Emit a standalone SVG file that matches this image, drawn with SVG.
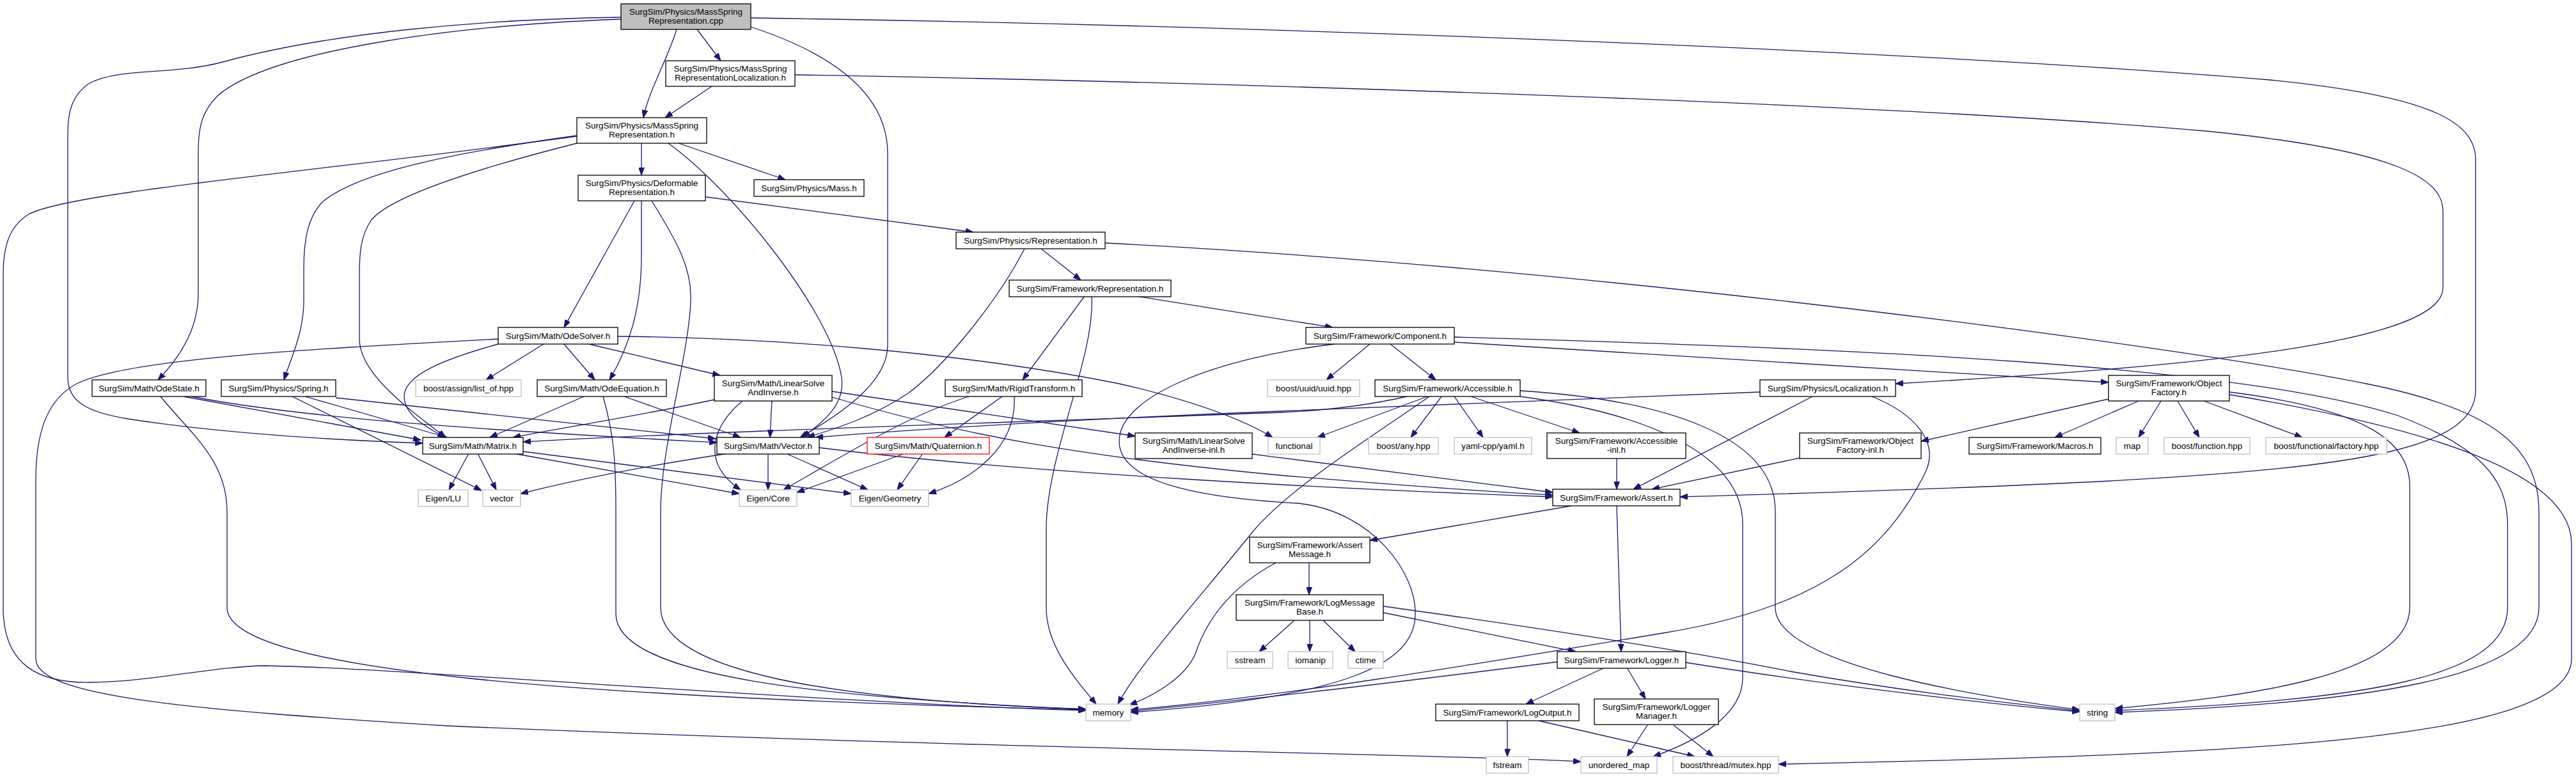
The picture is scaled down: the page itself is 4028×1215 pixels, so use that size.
<svg xmlns="http://www.w3.org/2000/svg" width="4028" height="1215" viewBox="0 0 4028 1215">
<style>
.n rect{fill:#fff;stroke:#000;stroke-width:1.3}
.n.ext rect{stroke:#bfbfbf}
.n.main rect{fill:#bfbfbf}
.n.trunc rect{stroke:#ff0000}
text{font-family:"Liberation Sans",Arial,Helvetica,sans-serif;font-size:13.5px;fill:#000;text-anchor:middle}
.e path{fill:none;stroke:#191970;stroke-width:1.3;marker-end:url(#ah)}
</style>
<defs>
<marker id="ah" markerWidth="12" markerHeight="9" refX="12" refY="4.5" orient="auto" markerUnits="userSpaceOnUse"><path d="M0,0 L12,4.5 L0,9 z" fill="#191970" stroke="#191970" stroke-width="1"/></marker>
</defs>
<rect width="4028" height="1215" fill="#fff"/>
<g id="edges" class="e">
<path d="M1090,46 L1127,95"/>
<path d="M1058,46 C1045,90 1015,140 1006,184"/>
<path d="M971,27 C760,30 520,50 348,97 C270,118 190,105 140,130 C110,150 106,180 106,210 L106,590 C106,630 140,645 200,655 C350,678 520,688 661,693"/>
<path d="M971,30 C700,40 420,80 340,150 C315,175 310,200 310,240 L310,460 C310,510 285,555 247,594"/>
<path d="M1174,42 C1290,80 1388,140 1388,240 L1388,540 C1388,600 1310,650 1251,684"/>
<path d="M1174,28 C2000,40 3000,80 3550,125 C3800,150 3871,190 3871,250 L3871,610 C3871,700 3700,730 3300,752 C3050,765 2800,772 2627,777"/>
<path d="M1113,135 L1040,184"/>
<path d="M1243,117 C2000,130 3000,165 3450,205 C3750,235 3820,280 3820,330 L3820,450 C3820,540 3400,575 2964,600"/>
<path d="M1003,224 L1003,274"/>
<path d="M1061,224 L1228,281"/>
<path d="M902,212 C700,240 560,270 505,315 C480,340 475,380 475,420 L475,470 C475,520 455,560 444,594"/>
<path d="M902,224 C760,260 610,305 580,345 C563,370 562,400 562,430 L562,530 C562,585 640,640 697,684"/>
<path d="M1045,224 C1150,300 1300,490 1316,590 C1322,635 1285,660 1255,684"/>
<path d="M902,213 C500,268 110,300 45,335 C12,355 5,390 5,430 L5,950 C5,1040 60,1068 140,1067 C240,1066 330,1042 415,1041 C600,1043 1300,1100 1698,1111"/>
<path d="M1104,308 L1522,363"/>
<path d="M992,314 L882,512"/>
<path d="M1003,314 L1003,400 C1003,480 985,540 953,594"/>
<path d="M1019,314 C1060,380 1082,420 1080,470 C1078,550 1033,700 1033,800 L1033,950 C1033,1050 1300,1095 1698,1109"/>
<path d="M1628,389 L1690,438"/>
<path d="M1602,389 C1560,470 1480,570 1420,615 C1360,655 1300,672 1262,684"/>
<path d="M1728,380 C2500,420 3400,540 3700,600 C3900,640 3970,700 3970,800 L3970,950 C3970,1060 3700,1100 3307,1114"/>
<path d="M1776,463 L2084,512"/>
<path d="M1696,463 L1599,594"/>
<path d="M1707,463 C1712,560 1640,700 1636,820 L1636,950 C1636,1010 1680,1060 1714,1101"/>
<path d="M850,538 L760,594"/>
<path d="M882,538 L930,594"/>
<path d="M921,538 L1126,587"/>
<path d="M966,526 C1200,528 1500,550 1750,600 C1880,630 1950,660 1990,684"/>
<path d="M779,538 C700,560 632,585 632,620 C632,650 670,670 696,684"/>
<path d="M779,530 C500,545 200,560 120,600 C72,625 56,680 56,750 L56,1030 C56,1090 300,1110 700,1135 C1500,1170 2300,1180 2472,1191"/>
<path d="M2142,538 L2074,594"/>
<path d="M2174,538 L2245,594"/>
<path d="M2274,535 C2700,560 3100,585 3297,598"/>
<path d="M2274,527 C2900,545 3500,570 3750,650 C3880,700 3921,750 3921,820 L3921,950 C3921,1060 3700,1095 3307,1111"/>
<path d="M2087,538 C1900,560 1750,620 1750,690 C1750,760 1900,780 2030,787 C2150,800 2215,900 2213,960 C2213,1040 2100,1090 1768,1114"/>
<path d="M287,620 L658,688"/>
<path d="M300,620 C500,660 900,680 1121,692"/>
<path d="M251,620 C300,680 355,720 355,800 L355,950 C355,1050 900,1090 1698,1110"/>
<path d="M477,620 L699,684"/>
<path d="M457,620 L753,767"/>
<path d="M525,622 L1119,686"/>
<path d="M913,620 L766,684"/>
<path d="M976,620 L1158,684"/>
<path d="M943,620 C960,680 963,720 963,800 L963,960 C963,1060 1300,1092 1698,1109"/>
<path d="M1301,612 L1775,682"/>
<path d="M1207,627 L1204,684"/>
<path d="M1161,627 C1120,660 1090,720 1158,766"/>
<path d="M1117,625 C1000,650 900,665 802,684"/>
<path d="M1301,621 C1500,680 1700,715 2000,743 C2200,760 2350,770 2428,774"/>
<path d="M1515,620 C1420,650 1340,700 1225,766"/>
<path d="M1567,620 L1477,684"/>
<path d="M1586,620 C1590,700 1520,750 1452,772"/>
<path d="M2232,620 L2060,684"/>
<path d="M2254,620 L2206,684"/>
<path d="M2274,620 L2319,684"/>
<path d="M2300,620 L2470,677"/>
<path d="M2235,620 C2150,680 2020,760 1960,830 C1880,930 1780,1040 1748,1101"/>
<path d="M2377,611 C2600,625 2776,680 2776,800 L2776,950 C2776,1040 3100,1090 3252,1110"/>
<path d="M2377,620 C2600,650 2725,720 2725,820 L2725,1060 C2725,1120 2650,1160 2585,1183"/>
<path d="M2200,620 C2120,638 2050,643 2000,645 C1600,660 1100,675 818,691"/>
<path d="M2834,620 L2554,765"/>
<path d="M2927,620 C2990,645 3035,690 3010,740 C2950,860 2850,950 2600,990 C2300,1040 2000,1090 1768,1110"/>
<path d="M2752,613 L2000,643 C1700,655 1450,670 1275,684"/>
<path d="M3297,624 L3004,690"/>
<path d="M3344,627 L3213,684"/>
<path d="M3379,627 L3344,684"/>
<path d="M3405,627 L3439,684"/>
<path d="M3446,627 L3600,684"/>
<path d="M3486,613 C3700,640 3768,690 3768,760 L3768,950 C3768,1060 3500,1090 3307,1108"/>
<path d="M3486,617 C3800,670 4021,740 4021,850 L4021,1030 C4021,1160 3500,1180 2781,1195"/>
<path d="M733,709 L702,766"/>
<path d="M747,709 L776,766"/>
<path d="M808,710 L1156,772"/>
<path d="M818,706 L1331,772"/>
<path d="M1139,709 C1000,730 900,750 814,772"/>
<path d="M1201,709 L1201,766"/>
<path d="M1229,709 L1357,766"/>
<path d="M1281,700 C1600,740 2100,765 2428,777"/>
<path d="M1415,709 L1246,770"/>
<path d="M1443,709 L1403,766"/>
<path d="M1958,710 C2150,735 2350,760 2428,770"/>
<path d="M2528,716 L2528,765"/>
<path d="M2815,716 L2583,765"/>
<path d="M2457,791 L2142,845"/>
<path d="M2528,791 L2535,1019"/>
<path d="M2047,880 L2047,930"/>
<path d="M1995,880 C1920,920 1885,975 1870,1020 C1855,1060 1800,1090 1766,1102"/>
<path d="M2024,970 L1969,1019"/>
<path d="M2048,970 L2048,1019"/>
<path d="M2069,970 L2119,1019"/>
<path d="M2163,958 L2464,1019"/>
<path d="M2163,948 C2500,995 2700,1030 2800,1050 C3000,1085 3150,1100 3252,1112"/>
<path d="M2435,1035 C2200,1065 1950,1095 1768,1112"/>
<path d="M2509,1044 L2386,1101"/>
<path d="M2544,1044 L2573,1093"/>
<path d="M2636,1036 C2850,1070 3100,1100 3252,1113"/>
<path d="M2357,1127 L2357,1183"/>
<path d="M2406,1127 L2650,1183"/>
<path d="M2576,1134 L2544,1183"/>
<path d="M2617,1134 L2679,1183"/>
</g>
<g id="n_main" class="n main"><rect x="971" y="6" width="203" height="40"/><text x="1072.5" y="22.5">SurgSim/Physics/MassSpring</text><text x="1072.5" y="37">Representation.cpp</text></g>
<g id="n_msrloc" class="n"><rect x="1041" y="95" width="202" height="40"/><text x="1142" y="111.5">SurgSim/Physics/MassSpring</text><text x="1142" y="126">RepresentationLocalization.h</text></g>
<g id="n_msr" class="n"><rect x="902" y="184" width="203" height="40"/><text x="1003.5" y="200.5">SurgSim/Physics/MassSpring</text><text x="1003.5" y="215">Representation.h</text></g>
<g id="n_defrep" class="n"><rect x="904" y="274" width="199" height="40"/><text x="1003.5" y="290.5">SurgSim/Physics/Deformable</text><text x="1003.5" y="305">Representation.h</text></g>
<g id="n_mass" class="n"><rect x="1179" y="281" width="172" height="26"/><text x="1265" y="298.5">SurgSim/Physics/Mass.h</text></g>
<g id="n_physrep" class="n"><rect x="1495" y="363" width="233" height="26"/><text x="1611.5" y="380.5">SurgSim/Physics/Representation.h</text></g>
<g id="n_fwrep" class="n"><rect x="1578" y="438" width="253" height="26"/><text x="1704.5" y="455.5">SurgSim/Framework/Representation.h</text></g>
<g id="n_odesolver" class="n"><rect x="779" y="512" width="187" height="26"/><text x="872.5" y="529.5">SurgSim/Math/OdeSolver.h</text></g>
<g id="n_component" class="n"><rect x="2042" y="512" width="232" height="26"/><text x="2158" y="529.5">SurgSim/Framework/Component.h</text></g>
<g id="n_odestate" class="n"><rect x="144" y="594" width="178" height="26"/><text x="233" y="611.5">SurgSim/Math/OdeState.h</text></g>
<g id="n_spring" class="n"><rect x="346" y="594" width="179" height="26"/><text x="435.5" y="611.5">SurgSim/Physics/Spring.h</text></g>
<g id="n_listof" class="n ext"><rect x="650" y="594" width="165" height="26"/><text x="732.5" y="611.5">boost/assign/list_of.hpp</text></g>
<g id="n_odeeq" class="n"><rect x="840" y="594" width="202" height="26"/><text x="941" y="611.5">SurgSim/Math/OdeEquation.h</text></g>
<g id="n_linsolve" class="n"><rect x="1117" y="587" width="184" height="40"/><text x="1209" y="603.5">SurgSim/Math/LinearSolve</text><text x="1209" y="618">AndInverse.h</text></g>
<g id="n_rigid" class="n"><rect x="1478" y="594" width="214" height="26"/><text x="1585" y="611.5">SurgSim/Math/RigidTransform.h</text></g>
<g id="n_uuid" class="n ext"><rect x="1982" y="594" width="144" height="26"/><text x="2054" y="611.5">boost/uuid/uuid.hpp</text></g>
<g id="n_accessible" class="n"><rect x="2150" y="594" width="227" height="26"/><text x="2263.5" y="611.5">SurgSim/Framework/Accessible.h</text></g>
<g id="n_localization" class="n"><rect x="2752" y="594" width="212" height="26"/><text x="2858" y="611.5">SurgSim/Physics/Localization.h</text></g>
<g id="n_objfactory" class="n"><rect x="3297" y="587" width="189" height="40"/><text x="3391.5" y="603.5">SurgSim/Framework/Object</text><text x="3391.5" y="618">Factory.h</text></g>
<g id="n_matrix" class="n"><rect x="661" y="684" width="157" height="26"/><text x="739.5" y="701.5">SurgSim/Math/Matrix.h</text></g>
<g id="n_vector_h" class="n"><rect x="1121" y="684" width="160" height="26"/><text x="1201" y="701.5">SurgSim/Math/Vector.h</text></g>
<g id="n_quat" class="n trunc"><rect x="1356" y="684" width="191" height="26"/><text x="1451.5" y="701.5">SurgSim/Math/Quaternion.h</text></g>
<g id="n_linsolveinl" class="n"><rect x="1775" y="677" width="183" height="40"/><text x="1866.5" y="693.5">SurgSim/Math/LinearSolve</text><text x="1866.5" y="708">AndInverse-inl.h</text></g>
<g id="n_functional" class="n ext"><rect x="1983" y="684" width="81" height="26"/><text x="2023.5" y="701.5">functional</text></g>
<g id="n_any" class="n ext"><rect x="2140" y="684" width="109" height="26"/><text x="2194.5" y="701.5">boost/any.hpp</text></g>
<g id="n_yaml" class="n ext"><rect x="2274" y="684" width="121" height="26"/><text x="2334.5" y="701.5">yaml-cpp/yaml.h</text></g>
<g id="n_accinl" class="n"><rect x="2419" y="677" width="217" height="40"/><text x="2527.5" y="693.5">SurgSim/Framework/Accessible</text><text x="2527.5" y="708">-inl.h</text></g>
<g id="n_ofinl" class="n"><rect x="2814" y="677" width="190" height="40"/><text x="2909" y="693.5">SurgSim/Framework/Object</text><text x="2909" y="708">Factory-inl.h</text></g>
<g id="n_macros" class="n"><rect x="3079" y="684" width="206" height="26"/><text x="3182" y="701.5">SurgSim/Framework/Macros.h</text></g>
<g id="n_map" class="n ext"><rect x="3309" y="684" width="50" height="26"/><text x="3334" y="701.5">map</text></g>
<g id="n_function" class="n ext"><rect x="3384" y="684" width="134" height="26"/><text x="3451" y="701.5">boost/function.hpp</text></g>
<g id="n_factory" class="n ext"><rect x="3543" y="684" width="189" height="26"/><text x="3637.5" y="701.5">boost/functional/factory.hpp</text></g>
<g id="n_lu" class="n ext"><rect x="654" y="766" width="78" height="26"/><text x="693" y="783.5">Eigen/LU</text></g>
<g id="n_vector" class="n ext"><rect x="755" y="766" width="59" height="26"/><text x="784.5" y="783.5">vector</text></g>
<g id="n_core" class="n ext"><rect x="1156" y="766" width="90" height="26"/><text x="1201" y="783.5">Eigen/Core</text></g>
<g id="n_geometry" class="n ext"><rect x="1331" y="766" width="121" height="26"/><text x="1391.5" y="783.5">Eigen/Geometry</text></g>
<g id="n_assert" class="n"><rect x="2428" y="765" width="199" height="26"/><text x="2527.5" y="782.5">SurgSim/Framework/Assert.h</text></g>
<g id="n_assertmsg" class="n"><rect x="1954" y="840" width="188" height="40"/><text x="2048" y="856.5">SurgSim/Framework/Assert</text><text x="2048" y="871">Message.h</text></g>
<g id="n_logmsgbase" class="n"><rect x="1933" y="930" width="230" height="40"/><text x="2048" y="946.5">SurgSim/Framework/LogMessage</text><text x="2048" y="961">Base.h</text></g>
<g id="n_sstream" class="n ext"><rect x="1919" y="1019" width="71" height="26"/><text x="1954.5" y="1036.5">sstream</text></g>
<g id="n_iomanip" class="n ext"><rect x="2014" y="1019" width="70" height="26"/><text x="2049" y="1036.5">iomanip</text></g>
<g id="n_ctime" class="n ext"><rect x="2108" y="1019" width="55" height="26"/><text x="2135.5" y="1036.5">ctime</text></g>
<g id="n_logger" class="n"><rect x="2435" y="1019" width="201" height="26"/><text x="2535.5" y="1036.5">SurgSim/Framework/Logger.h</text></g>
<g id="n_memory" class="n ext"><rect x="1698" y="1101" width="70" height="26"/><text x="1733" y="1118.5">memory</text></g>
<g id="n_logoutput" class="n"><rect x="2245" y="1101" width="224" height="26"/><text x="2357" y="1118.5">SurgSim/Framework/LogOutput.h</text></g>
<g id="n_loggermgr" class="n"><rect x="2493" y="1093" width="194" height="40"/><text x="2590" y="1109.5">SurgSim/Framework/Logger</text><text x="2590" y="1124">Manager.h</text></g>
<g id="n_string" class="n ext"><rect x="3252" y="1101" width="55" height="26"/><text x="3279.5" y="1118.5">string</text></g>
<g id="n_fstream" class="n ext"><rect x="2324" y="1183" width="66" height="26"/><text x="2357" y="1200.5">fstream</text></g>
<g id="n_umap" class="n ext"><rect x="2472" y="1183" width="119" height="26"/><text x="2531.5" y="1200.5">unordered_map</text></g>
<g id="n_mutex" class="n ext"><rect x="2616" y="1183" width="165" height="26"/><text x="2698.5" y="1200.5">boost/thread/mutex.hpp</text></g>
</svg>
